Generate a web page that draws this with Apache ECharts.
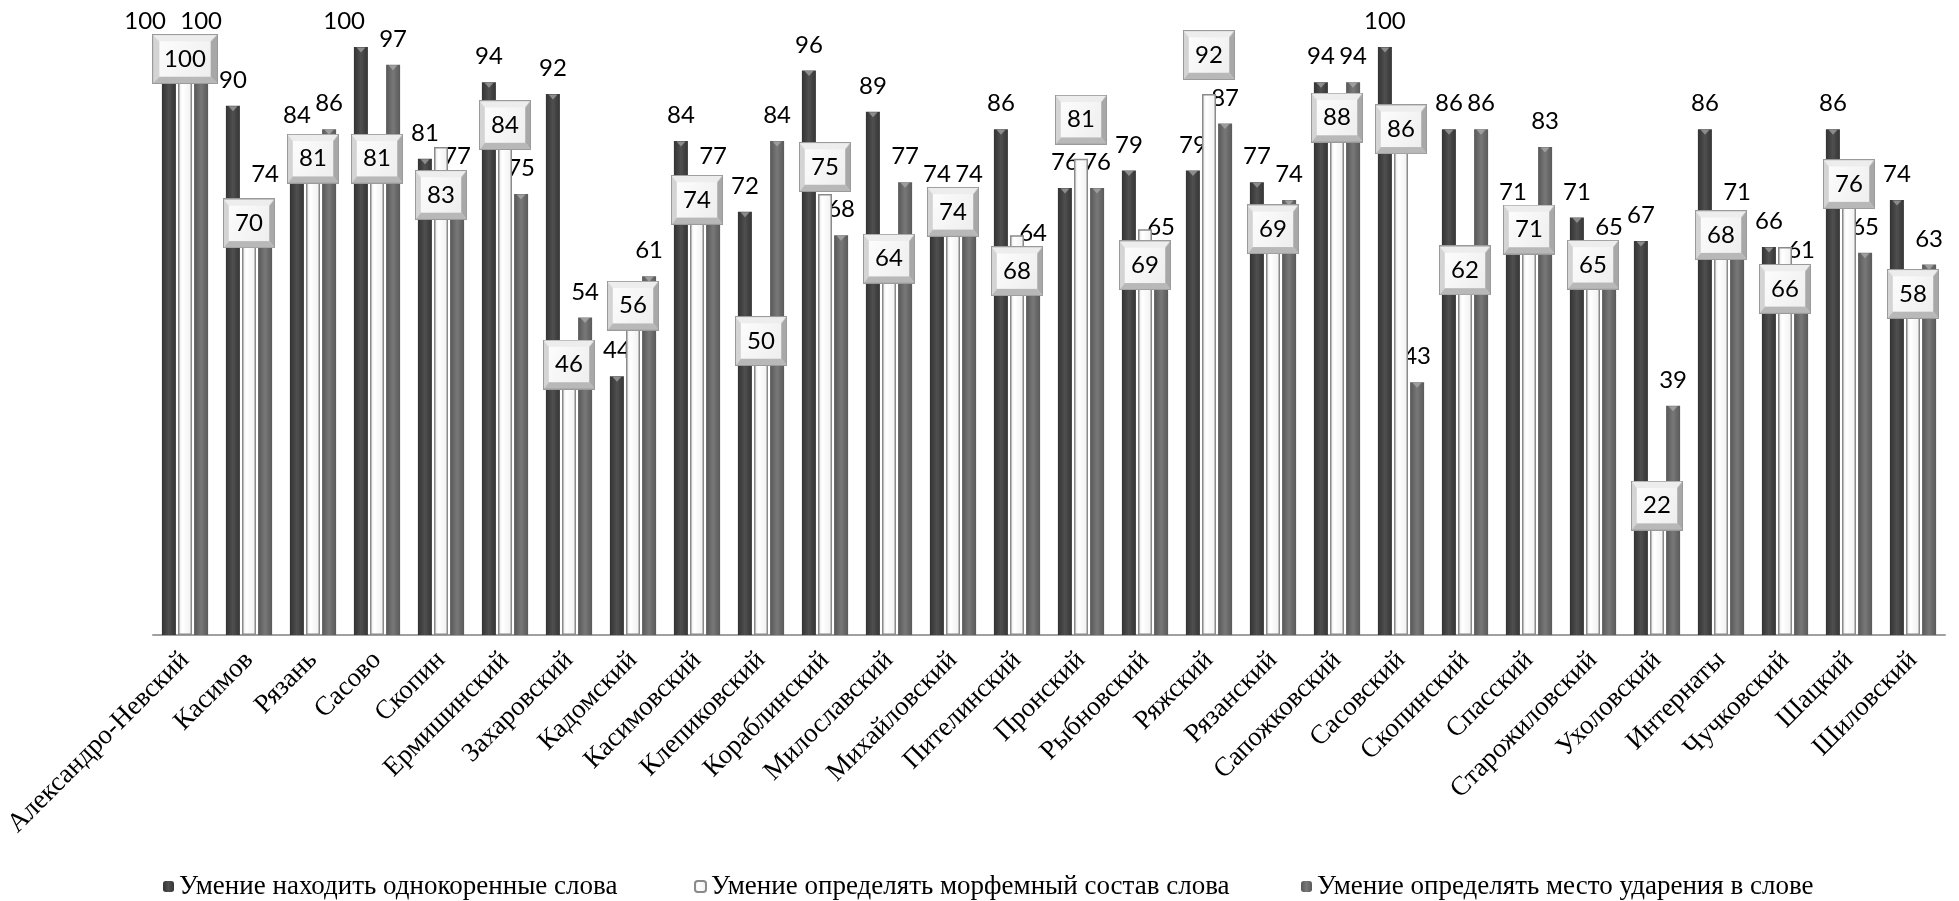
<!DOCTYPE html>
<html>
<head>
<meta charset="utf-8">
<script src="https://cdn.jsdelivr.net/npm/echarts@6/dist/echarts.min.js"></script>
<style>
  html, body { margin: 0; padding: 0; background: #ffffff; }
  #chart { width: 1959px; height: 901px; }
</style>
</head>
<body>
<div id="chart"></div>
<script>
const categories = ['Александро-Невский', 'Касимов', 'Рязань', 'Сасово', 'Скопин', 'Ермишинский', 'Захаровский', 'Кадомский', 'Касимовский', 'Клепиковский', 'Кораблинский', 'Милославский', 'Михайловский', 'Пителинский', 'Пронский', 'Рыбновский', 'Ряжский', 'Рязанский', 'Сапожковский', 'Сасовский', 'Скопинский', 'Спасский', 'Старожиловский', 'Ухоловский', 'Интернаты', 'Чучковский', 'Шацкий', 'Шиловский'];
const seriesNames = ['Умение находить однокоренные слова', 'Умение определять морфемный состав слова', 'Умение определять место ударения в слове'];
const rootWords = [100, 90, 84, 100, 81, 94, 92, 44, 84, 72, 96, 89, 74, 86, 76, 79, 79, 77, 94, 100, 86, 71, 71, 67, 86, 66, 86, 74];
const morpheme  = [100, 70, 81, 81, 83, 84, 46, 56, 74, 50, 75, 64, 74, 68, 81, 69, 92, 69, 88, 86, 62, 71, 65, 22, 68, 66, 76, 58];
const stress    = [100, 74, 86, 97, 77, 75, 54, 61, 77, 84, 68, 77, 74, 64, 76, 65, 87, 74, 94, 43, 86, 83, 65, 39, 71, 61, 65, 63];

const GRID_TOP = 47, GRID_BOTTOM = 266, H = 901;
const PX = (H - GRID_TOP - GRID_BOTTOM) / 100;
const FONT = 24;
const LABEL_RISE = 28;   // centre of value label above bar top, px
const BAR_STEP = 16;     // distance between neighbouring bars in a group, px

// bevelled box image for the boxed labels
function makeBevel() {
  const w = 64, h = 48, b = 7;
  const c = document.createElement('canvas');
  c.width = w; c.height = h;
  const g = c.getContext('2d');
  const grad = g.createLinearGradient(0, 0, w, h);
  grad.addColorStop(0, '#ffffff'); grad.addColorStop(1, '#ececec');
  g.fillStyle = grad; g.fillRect(0, 0, w, h);
  function poly(pts, col) {
    g.beginPath(); g.moveTo(pts[0][0], pts[0][1]);
    for (let i = 1; i < pts.length; i++) g.lineTo(pts[i][0], pts[i][1]);
    g.closePath(); g.fillStyle = col; g.fill();
  }
  poly([[0,0],[w,0],[w-b,b],[b,b]], '#ededed');
  poly([[0,0],[b,b],[b,h-b],[0,h]], '#d4d4d4');
  poly([[w,0],[w,h],[w-b,h-b],[w-b,b]], '#a8a8a8');
  poly([[0,h],[b,h-b],[w-b,h-b],[w,h]], '#b8b8b8');
  g.strokeStyle = '#9a9a9a'; g.lineWidth = 1; g.strokeRect(0.5, 0.5, w-1, h-1);
  return c;
}
const bevel = makeBevel();

// vertical shift for boxed labels so they clear the neighbouring value labels
function boxShift(i) {
  const box = -morpheme[i] * PX;
  const others = [rootWords[i], stress[i]].map(v => -v * PX - LABEL_RISE);
  const need = 40;
  const ok = s => others.every(c => Math.abs(box + s - c) >= need);
  for (let d = 0; d <= 150; d++) {
    if (ok(d)) return d;
    if (ok(-d)) return -d;
  }
  return 0;
}
// horizontal shift for the first value label when it collides with the third one
function darkShift(i) {
  const w = v => String(v).length * 0.58 * FONT;
  const dy = Math.abs(rootWords[i] - stress[i]) * PX;
  const overlap = (w(rootWords[i]) + w(stress[i])) / 2 - 2 * BAR_STEP;
  if (dy < FONT && overlap > 0) return -(overlap + 14);
  return 0;
}

const chart = echarts.init(document.getElementById('chart'));
const valueLabel = {
  show: true, position: 'top', distance: LABEL_RISE - FONT * 0.6,
  fontFamily: 'Lato', fontSize: FONT, color: '#000'
};
const legendText = { fontFamily: 'Liberation Serif', fontSize: 27, color: '#000' };
const darkColor = new echarts.graphic.LinearGradient(0, 0, 1, 0, [
  { offset: 0, color: '#333333' }, { offset: 0.5, color: '#4f4f4f' }, { offset: 1, color: '#353535' }
]);
const midColor = new echarts.graphic.LinearGradient(0, 0, 1, 0, [
  { offset: 0, color: '#585858' }, { offset: 0.5, color: '#787878' }, { offset: 1, color: '#5a5a5a' }
]);
const whiteColor = new echarts.graphic.LinearGradient(0, 0, 1, 0, [
  { offset: 0, color: '#e4e4e4' }, { offset: 0.3, color: '#ffffff' }, { offset: 1, color: '#f0f0f0' }
]);

const option = {
  backgroundColor: '#ffffff',
  animation: false,
  grid: { left: 153, right: 14, top: GRID_TOP, bottom: GRID_BOTTOM },
  legend: [
    { data: [seriesNames[0]], left: 158, top: 868, itemWidth: 11, itemHeight: 11, textStyle: legendText },
    { data: [seriesNames[1]], left: 689, top: 868, itemWidth: 11, itemHeight: 11, textStyle: legendText },
    { data: [seriesNames[2]], left: 1296, top: 868, itemWidth: 11, itemHeight: 11, textStyle: legendText }
  ],
  xAxis: {
    type: 'category', data: categories,
    axisTick: { show: false },
    axisLine: { lineStyle: { color: '#a0a0a0', width: 2 } },
    axisLabel: { interval: 0, rotate: 45, margin: 21, fontFamily: 'Liberation Serif', fontSize: 27, color: '#000' }
  },
  yAxis: { type: 'value', min: 0, max: 100, show: false, splitLine: { show: false } },
  series: [
    {
      name: seriesNames[0], type: 'bar', barWidth: 14, barGap: '15%',
      data: rootWords.map((v, i) => ({ value: v, label: { offset: [darkShift(i), 0] } })),
      itemStyle: { color: darkColor }, label: valueLabel
    },
    {
      name: seriesNames[1], type: 'bar', barWidth: 14, barGap: '15%',
      data: morpheme.map((v, i) => ({ value: v, label: { offset: [0, boxShift(i)] } })),
      itemStyle: { color: whiteColor, borderColor: '#8a8a8a', borderWidth: 1.5 },
      label: {
        show: true, position: 'top', distance: -25,
        fontFamily: 'Lato', fontSize: FONT, color: '#000', lineHeight: 28,
        padding: [11, 12], backgroundColor: { image: bevel }
      },
      z: 3
    },
    {
      name: seriesNames[2], type: 'bar', data: stress, barWidth: 14, barGap: '15%',
      itemStyle: { color: midColor }, label: valueLabel
    },
    {
      type: 'scatter', data: rootWords, symbol: 'triangle', symbolRotate: 180,
      symbolSize: [9, 5], symbolOffset: [-BAR_STEP, 3], itemStyle: { color: '#9c9c9c' }, silent: true, z: 2
    },
    {
      type: 'scatter', data: stress, symbol: 'triangle', symbolRotate: 180,
      symbolSize: [9, 5], symbolOffset: [BAR_STEP, 3], itemStyle: { color: '#a8a8a8' }, silent: true, z: 2
    }
  ]
};
chart.setOption(option);
</script>
</body>
</html>
